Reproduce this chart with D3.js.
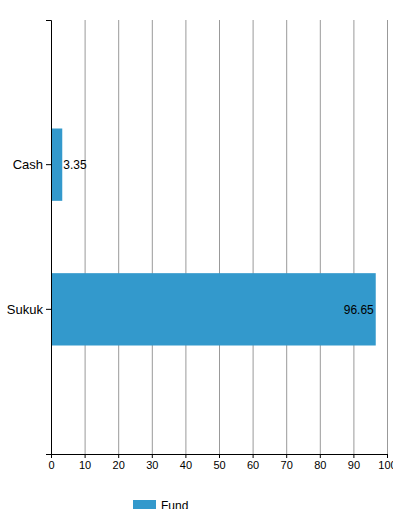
<!DOCTYPE html>
<html><head><meta charset="utf-8">
<script src="https://cdn.jsdelivr.net/npm/d3@7"></script>
<style>body{margin:0;background:#fff;} svg{display:block;font-family:"Liberation Sans",Arial,sans-serif;}</style>
</head><body>
<svg id="c" width="393" height="509"></svg>
<script>
const categories = ["Cash", "Sukuk"];
const values = [3.35, 96.65];
const xTicks = [0,10,20,30,40,50,60,70,80,90,100];
const seriesName = "Fund";

const margin = {top: 20, left: 51, width: 336, height: 434};
const svg = d3.select("#c");
const g = svg.append("g").attr("transform", `translate(${margin.left},${margin.top})`);
const x = d3.scaleLinear().domain([0,100]).range([0, margin.width]);
const y = d3.scaleBand().domain(categories).range([0, margin.height]).paddingInner(0.5).paddingOuter(0.75);
const color = "#3399cc";

// gridlines
g.selectAll("line.grid").data(xTicks.filter(d => d > 0)).enter().append("line")
  .attr("x1", d => x(d) + 0.5).attr("x2", d => x(d) + 0.5)
  .attr("y1", 0).attr("y2", margin.height)
  .attr("stroke", "#999").attr("stroke-width", 1);

// bars
g.selectAll("rect.bar").data(categories).enter().append("rect")
  .attr("x", 0).attr("y", d => y(d))
  .attr("width", (d,i) => x(values[i])).attr("height", y.bandwidth())
  .attr("fill", color);

// labels
g.selectAll("text.val").data(categories).enter().append("text")
  .attr("x", (d,i) => values[i] > 20 ? x(values[i]) - 2 : x(values[i]) + 1)
  .attr("y", d => y(d) + y.bandwidth()/2)
  .attr("dy", "0.35em")
  .attr("text-anchor", (d,i) => values[i] > 20 ? "end" : "start")
  .attr("font-size", 12).attr("fill", "#000")
  .text((d,i) => values[i]);

// x axis
const xa = g.append("g").attr("transform", `translate(0,${margin.height})`)
  .call(d3.axisBottom(x).tickValues(xTicks).tickSize(4).tickSizeOuter(0));
xa.selectAll("text").attr("font-size", 11).attr("fill", "#000").attr("font-family", "Liberation Sans, Arial, sans-serif");
xa.selectAll("line, path").attr("stroke", "#000");

// y axis
const ya = g.append("g").call(d3.axisLeft(y).tickSize(5).tickSizeOuter(5));
ya.selectAll("text").attr("font-size", 13).attr("fill", "#000").attr("font-family", "Liberation Sans, Arial, sans-serif");
ya.selectAll("line, path").attr("stroke", "#000");

// legend
const lg = svg.append("g").attr("transform", "translate(133,500)");
lg.append("rect").attr("width", 23).attr("height", 12).attr("fill", color);
lg.append("text").attr("x", 28).attr("y", 10).attr("font-size", 12).attr("fill", "#000").text(seriesName);
</script>
</body></html>
